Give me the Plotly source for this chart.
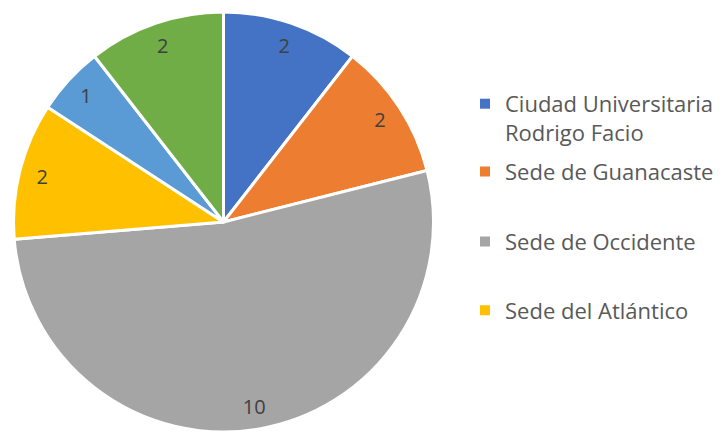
import plotly.graph_objects as go

# Data
categories = ["Ciudad Universitaria Rodrigo Facio", "Sede de Guanacaste", "Sede de Occidente",
              "Sede del Atlántico", "Sede del Caribe", "Sede del Pacífico"]
values = [2, 2, 10, 2, 1, 2]
colors = ["#4472C4", "#ED7D31", "#A5A5A5", "#FFC000", "#5B9BD5", "#70AD47"]
legend_labels = ["Ciudad Universitaria<br>Rodrigo Facio", "Sede de Guanacaste",
                 "Sede de Occidente", "Sede del Atlántico"]

W, H = 722, 432
cx, top, R = 223.5, 12, 210
dom_x = [(cx - R) / W, (cx + R) / W]
dom_y = [0, 1 - top / H]

fig = go.Figure()
fig.add_trace(go.Pie(
    labels=categories, values=values, sort=False, direction="clockwise", rotation=0,
    marker=dict(colors=colors, line=dict(color="white", width=3)),
    textinfo="none", showlegend=False, domain=dict(x=dom_x, y=dom_y),
))
# transparent ring overlay to position value labels near the outer edge
fig.add_trace(go.Pie(
    labels=categories, values=values, sort=False, direction="clockwise", rotation=0,
    hole=0.78, marker=dict(colors=["rgba(0,0,0,0)"] * len(values), line=dict(width=0)),
    textinfo="value", textposition="inside", insidetextorientation="horizontal",
    textfont=dict(family="Open Sans", size=20, color="#404040"),
    showlegend=False, hoverinfo="skip", domain=dict(x=dom_x, y=dom_y),
))

legend_centers = [118.4, 171.7, 241.7, 310.5]
legend_names = ["legend", "legend2", "legend3", "legend4"]
for lab, col, lg in zip(legend_labels, colors, legend_names):
    fig.add_trace(go.Scatter(
        x=[None], y=[None], mode="markers", name=lab,
        marker=dict(symbol="square", size=10, color=col),
        legend=lg, showlegend=True,
    ))

leg_x = 465 / W
layout_legends = {}
for lg, yc in zip(legend_names, legend_centers):
    layout_legends[lg] = dict(
        x=leg_x, y=1 - yc / H, xanchor="left", yanchor="middle",
        font=dict(family="Open Sans", size=22, color="#595959"),
        bgcolor="rgba(0,0,0,0)", itemwidth=30, valign="top",
    )

fig.update_layout(
    width=W, height=H, margin=dict(l=0, r=0, t=0, b=0),
    paper_bgcolor="white", plot_bgcolor="white",
    xaxis=dict(visible=False), yaxis=dict(visible=False),
    **layout_legends,
)
fig.write_html("out.html", config={"displayModeBar": False},
               post_script="document.body.style.margin='0';")
